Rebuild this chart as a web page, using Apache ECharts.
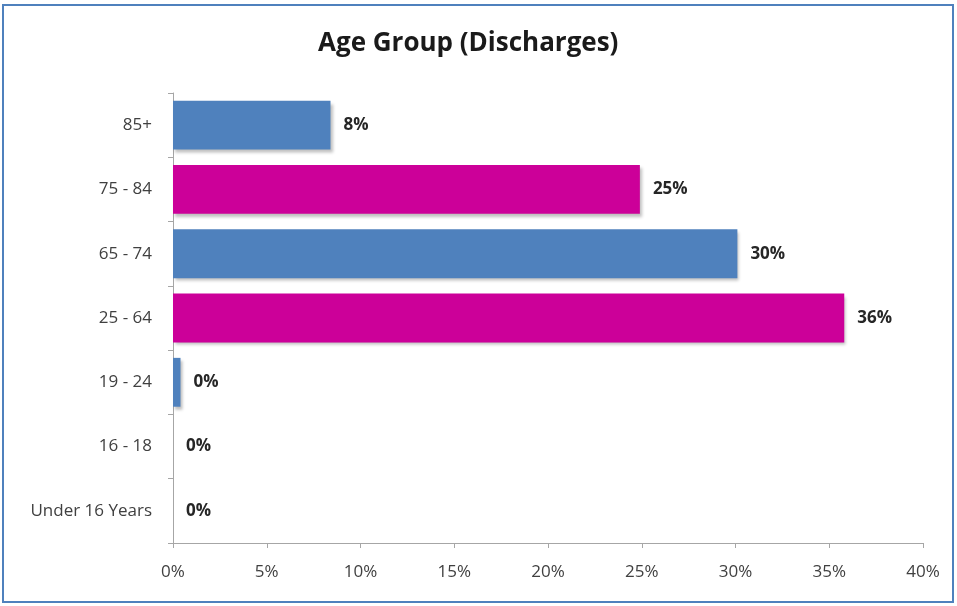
<!DOCTYPE html>
<html>
<head>
<meta charset="utf-8">
<script src="https://cdn.jsdelivr.net/npm/echarts@6/dist/echarts.min.js"></script>
<style>
html,body{margin:0;padding:0;background:#fff;}
#chart{width:957px;height:606px;}
</style>
</head>
<body>
<div id="chart"></div>
<script>
const categories = ['85+', '75 - 84', '65 - 74', '25 - 64', '19 - 24', '16 - 18', 'Under 16 Years'];
const shares = [8.4, 24.9, 30.1, 35.8, 0.4, 0, 0];
const xTicks = [0, 5, 10, 15, 20, 25, 30, 35, 40];

const palette = ['#4F81BD', '#CC0099'];
const chart = echarts.init(document.getElementById('chart'));
const font = 'Open Sans, Liberation Sans, sans-serif';

chart.setOption({
  animation: false,
  backgroundColor: '#ffffff',
  graphic: [{
    type: 'rect',
    shape: {x: 3, y: 5, width: 950, height: 597},
    style: {fill: 'none', stroke: '#4F81BD', lineWidth: 2},
    silent: true
  }],
  title: {
    text: 'Age Group (Discharges)',
    left: 313,
    top: 26,
    textStyle: {fontFamily: font, fontWeight: 'bold', fontSize: 26, color: '#1a1a1a'}
  },
  grid: {left: 173, right: 34, top: 93, bottom: 63, containLabel: false},
  xAxis: {
    type: 'value',
    min: xTicks[0],
    max: xTicks[xTicks.length - 1],
    interval: xTicks[1] - xTicks[0],
    axisLine: {show: true, lineStyle: {color: '#a6a6a6'}},
    axisTick: {show: true, length: 5, lineStyle: {color: '#a6a6a6'}},
    splitLine: {show: false},
    axisLabel: {formatter: v => v + '%', fontFamily: font, fontSize: 17, color: '#404040', margin: 21}
  },
  yAxis: {
    type: 'category',
    inverse: true,
    data: categories,
    axisLine: {show: true, lineStyle: {color: '#a6a6a6'}},
    axisTick: {show: true, length: 5, lineStyle: {color: '#a6a6a6'}},
    axisLabel: {fontFamily: font, fontSize: 17, color: '#404040', margin: 21}
  },
  series: [{
    type: 'bar',
    data: shares.map((v, i) => ({value: v, itemStyle: {color: palette[i % 2]}})),
    barWidth: '76%',
    itemStyle: {shadowColor: 'rgba(0,0,0,0.25)', shadowBlur: 3, shadowOffsetX: 2, shadowOffsetY: 3},
    label: {
      show: true,
      position: 'right',
      distance: 13,
      formatter: p => Math.round(p.value) + '%',
      fontFamily: font,
      fontWeight: 'bold',
      fontSize: 17,
      color: '#262626'
    }
  }]
});
</script>
</body>
</html>
